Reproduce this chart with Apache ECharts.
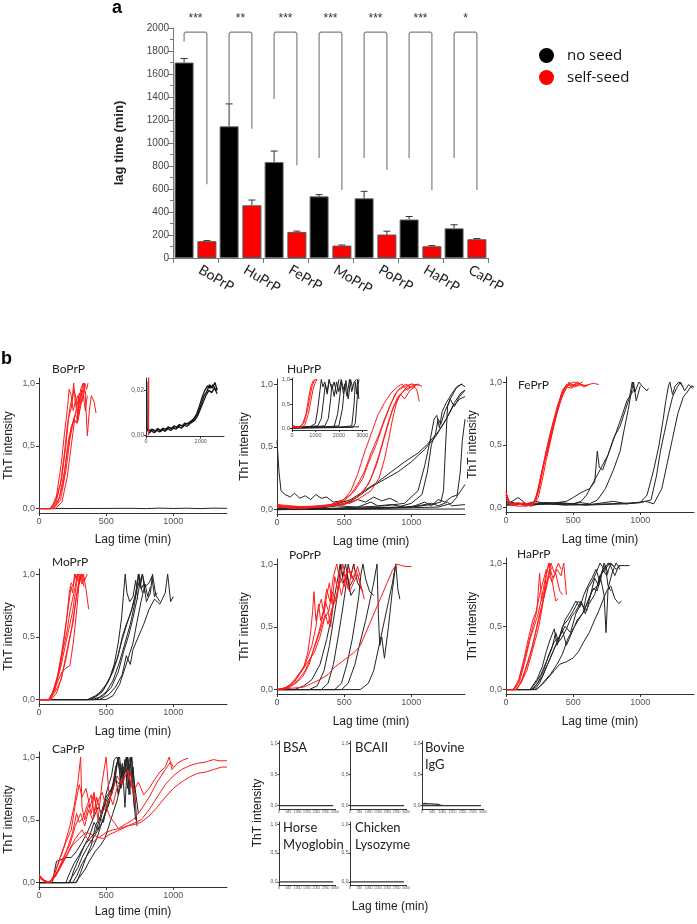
<!DOCTYPE html>
<html><head><meta charset="utf-8">
<script src="https://cdn.jsdelivr.net/npm/echarts@6/dist/echarts.min.js"></script>
<style>html,body{margin:0;padding:0;background:#fff}#c{width:697px;height:924px}</style>
</head><body><div id="c"></div>
<script>
// ---------- Panel a data ----------
const proteins = ['BoPrP','HuPrP','FePrP','MoPrP','PoPrP','HaPrP','CaPrP'];
const noSeed = [1700,1145,834,536,519,335,258];
const noSeedErr = [1735,1340,930,551,580,361,289];
const selfSeed = [146,458,227,108,204,102,163];
const selfSeedErr = [151,504,234,113,233,108,169];
const bracketLeftEnd = [1882,1345,1382,869,869,869,869];
const bracketRightEnd = [641,1124,805,592,767,592,592];
const bracketTop = 1965;
const starLevel = 2080;
const sigLabels = ['***','**','***','***','***','***','*'];
const lagTimeTicks = [0,200,400,600,800,1000,1200,1400,1600,1800,2000];

// ---------- Panel b tick labels ----------
const mainXTicks = [0,500,1000];
const thtTicks = [0,0.5,1];
const boInsetXTicks = [0,2000];
const boInsetYTicks = [0,0.02];
const huInsetXTicks = [0,1000,2000,3000];
const smallXTicks = [0,500,1000,1500,2000,2500,3000];

// ---------- Panel b curves: flat [t, ThT, t, ThT, ...] ----------
const boRed = [
 [0,0,80,0,120,0.05,160,0.2,190,0.45,210,0.65,230,0.8,250,0.9,258,1.0,270,0.85,290,0.9,300,0.8],
 [0,0,90,0,130,0.06,170,0.25,200,0.5,220,0.72,240,0.8,260,0.95,275,0.88,290,0.75,310,0.95,330,1.0,345,0.9,360,0.58,375,0.78,390,0.9,410,0.85,425,0.76],
 [0,0,100,0,140,0.05,180,0.2,210,0.45,240,0.65,260,0.7,280,0.8,300,0.92,320,0.85,340,1.0,355,0.95,365,1.0],
 [0,0,100,0,150,0.08,190,0.3,220,0.55,250,0.68,270,0.75,290,0.7,310,0.82,330,0.9,345,0.78,360,0.9],
 [0,0,110,0,160,0.07,200,0.3,230,0.55,260,0.72,280,0.68,300,0.85,320,0.95,335,0.88],
 [0,0,90,0,130,0.1,165,0.35,190,0.6,210,0.78,225,0.95,240,0.9,255,0.78,270,0.85,290,0.72],
 [0,0,120,0,170,0.05,210,0.25,240,0.5,265,0.7,285,0.68,305,0.8,320,0.95,330,1.0,350,0.9]
];
const boBlack = [
 [0,0,700,0.002,800,0,900,0.004,1000,0.001,1100,0.003,1200,0,1300,0.004,1400,0.002]
];
const boInsetBlack = [
 [30,0.024,40,0.003,80,0.002,150,0.0015,250,0.0025,350,0.002,450,0.0028,550,0.002,650,0.003,750,0.0025,850,0.0035,950,0.003,1050,0.004,1150,0.0035,1250,0.0045,1350,0.004,1450,0.005,1550,0.0055,1650,0.006,1750,0.0075,1850,0.0095,1950,0.013,2050,0.017,2150,0.02,2250,0.022,2350,0.021,2450,0.0225,2550,0.02,2600,0.021],
 [60,0.0025,120,0.001,200,0.002,300,0.0012,400,0.0022,500,0.0015,600,0.0025,700,0.0018,800,0.003,900,0.0022,1000,0.0032,1100,0.0028,1200,0.0038,1300,0.0032,1400,0.0045,1500,0.004,1600,0.0052,1700,0.006,1800,0.007,1900,0.009,2000,0.012,2100,0.015,2200,0.018,2300,0.02,2400,0.019,2500,0.021,2600,0.0185],
 [60,0.003,140,0.002,220,0.0028,320,0.0018,420,0.003,520,0.0022,620,0.0032,720,0.0026,820,0.0038,920,0.003,1020,0.0042,1120,0.0036,1220,0.0048,1320,0.0042,1420,0.0055,1520,0.005,1620,0.0062,1720,0.007,1820,0.0085,1920,0.0105,2020,0.014,2120,0.0175,2220,0.0195,2320,0.0225,2420,0.021,2520,0.0235,2600,0.02]
];
const boInsetRed = [[90,0,95,0.012,100,0.03]];

const huRed = [
 [0,0.05,50,0.02,150,0.01,300,0.02,400,0.04,500,0.08,550,0.15,600,0.28,650,0.45,700,0.6,750,0.75,800,0.85,850,0.93,900,0.98,930,1.0,970,0.95,1000,0.98],
 [0,0.03,100,0.01,300,0.02,450,0.05,550,0.12,600,0.2,650,0.3,700,0.45,720,0.5,760,0.6,800,0.72,850,0.85,900,0.95,950,0.98,1000,1.0,1040,0.96,1060,0.86],
 [0,0.02,200,0.01,400,0.03,500,0.05,600,0.1,680,0.2,740,0.35,780,0.5,820,0.65,860,0.8,900,0.9,950,0.95,1000,0.98,1050,1.0,1080,0.98],
 [0,0.04,200,0.02,400,0.04,500,0.07,580,0.15,640,0.25,680,0.37,700,0.42,740,0.52,790,0.68,840,0.82,880,0.92,920,0.97,960,1.0,1000,0.97,1050,1.0],
 [0,0.03,300,0.02,500,0.04,600,0.08,700,0.15,760,0.25,800,0.4,830,0.55,860,0.72,890,0.85,920,0.92,950,0.88,990,0.95,1030,0.98],
 [0,0.02,400,0.03,550,0.06,650,0.15,700,0.25,750,0.4,790,0.55,830,0.7,870,0.82,910,0.9,960,0.97,1000,1.0,1060,0.99]
];
const huBlack = [
 [0,0.55,15,0.3,30,0.15,60,0.12,100,0.1,130,0.13,170,0.09,210,0.11,250,0.08,290,0.12,330,0.09,370,0.1,420,0.06,480,0.07,540,0.05,600,0.08,660,0.06,720,0.1,780,0.07,840,0.09,900,0.06],
 [0,0.02,200,0.01,400,0.03,550,0.08,650,0.15,750,0.22,850,0.3,950,0.38,1050,0.45,1120,0.52,1200,0.62,1260,0.72,1320,0.85,1370,0.93,1400,0.95],
 [0,0.01,300,0.02,500,0.04,600,0.1,700,0.18,800,0.24,900,0.3,1000,0.38,1100,0.48,1180,0.58,1250,0.7,1310,0.82,1360,0.88,1400,0.9],
 [0,0.01,400,0.01,800,0.03,950,0.05,1050,0.15,1100,0.35,1140,0.55,1170,0.72,1190,0.75,1210,0.65,1230,0.78,1260,0.85,1300,0.92,1340,0.98,1380,1.0],
 [0,0,500,0.01,900,0.02,1000,0.05,1080,0.12,1120,0.3,1150,0.52,1180,0.6,1200,0.72,1220,0.68,1250,0.78,1290,0.88,1330,0.96,1370,1.0,1400,0.98],
 [0,0,600,0.01,1000,0.02,1150,0.04,1220,0.06,1240,0.15,1255,0.5,1270,0.82,1290,0.88,1320,0.82,1360,0.9,1400,0.95],
 [0,0,800,0.01,1200,0.02,1300,0.05,1340,0.1,1365,0.3,1380,0.55,1400,0.72],
 [0,0,700,0.01,1000,0.02,1100,0.06,1150,0.03,1200,0.08,1250,0.06,1300,0.1,1350,0.12,1400,0.2],
 [0,0.03,100,0.01,200,0.02,300,0.01,450,0.03,600,0.02,700,0.06,750,0.03,850,0.04,950,0.02,1050,0.03,1150,0.05,1200,0.03,1270,0.06,1300,0.03,1400,0.04],
 [0,0,1400,0.005]
];
const huInsetRed = [
 [0,0.02,300,0.03,450,0.08,600,0.3,700,0.6,800,0.85,900,0.97,1000,1.0,1060,0.98],
 [0,0.02,350,0.03,500,0.1,650,0.35,750,0.6,850,0.85,950,0.98,1050,1.0],
 [0,0.03,400,0.02,550,0.07,700,0.3,800,0.55,900,0.8,1000,0.95,1100,1.0]
];
const huInsetBlack = [
 [0,0.05,400,0.02,800,0.04,1000,0.1,1100,0.4,1200,0.8,1250,1.0,1320,0.85,1400,0.95,1500,0.7,1600,1.0],
 [0,0.02,600,0.03,1100,0.05,1250,0.2,1350,0.6,1420,0.9,1500,0.75,1580,1.0,1700,0.8,1800,0.95,1900,0.7,2000,1.0],
 [0,0.02,900,0.03,1400,0.05,1550,0.2,1650,0.6,1700,0.9,1800,0.65,1900,0.95,2000,0.75,2100,1.0,2200,0.8,2300,0.95],
 [0,0.01,1200,0.02,1800,0.04,1950,0.3,2050,0.7,2100,0.95,2200,0.7,2300,0.98,2400,0.6,2500,1.0,2600,0.8],
 [0,0.01,1500,0.03,2000,0.05,2150,0.4,2250,0.9,2350,0.65,2450,1.0,2550,0.75,2650,0.95,2750,1.0],
 [0,0.01,2000,0.02,2550,0.05,2650,0.5,2700,0.95,2760,0.7,2800,1.0,2850,0.6],
 [0,0,2600,0.02,2700,0.1,2780,0.6,2820,0.9,2860,1.0],
 [0,0.02,2860,0.03]
];

const feRed = [
 [0,0.13,20,0.05,50,0.02,100,0.03,150,0.01,200,0.03,230,0.1,260,0.25,290,0.4,320,0.55,350,0.68,380,0.78,410,0.9,430,0.95,460,0.98,500,0.97,540,0.99,580,0.96,620,0.98],
 [0,0.1,30,0.03,80,0.02,130,0.04,190,0.02,220,0.05,250,0.18,280,0.35,310,0.45,340,0.6,370,0.72,400,0.85,420,0.93,450,0.98,490,0.96,530,1.0,580,0.97,650,0.99,690,0.98],
 [0,0.08,40,0.02,100,0.01,200,0.02,240,0.08,270,0.22,300,0.38,330,0.52,360,0.68,390,0.8,410,0.88,440,0.95,470,1.0,510,0.96,560,0.98],
 [0,0.12,25,0.04,70,0.03,140,0.02,210,0.04,240,0.15,270,0.3,300,0.42,320,0.5,350,0.62,380,0.75,400,0.82,430,0.92,460,0.97,500,1.0,560,0.98,600,0.97],
 [0,0.06,50,0.02,120,0.03,190,0.01,220,0.06,250,0.2,285,0.38,310,0.5,345,0.65,380,0.8,420,0.92,440,0.96,470,0.99,520,0.97,570,1.0],
 [0,0.1,30,0.02,90,0.04,170,0.02,210,0.03,240,0.12,275,0.3,305,0.47,335,0.58,365,0.7,395,0.84,425,0.9,455,0.96,490,0.95,520,0.98]
];
const feBlack = [
 [0,0.1,30,0.04,90,0.08,150,0.03,220,0.05,300,0.03,380,0.04,450,0.05,500,0.08,560,0.12,620,0.15,660,0.2,680,0.45,695,0.32,720,0.3,760,0.42,800,0.55,850,0.65,890,0.78,920,0.88,940,1.0,960,0.92,990,1.0,1020,0.96,1050,0.93,1060,0.95],
 [0,0.05,100,0.03,200,0.02,300,0.04,400,0.03,500,0.03,560,0.05,600,0.1,640,0.18,700,0.3,760,0.42,820,0.6,860,0.72,900,0.85,930,0.9,950,1.0,970,0.85,1000,0.97],
 [0,0.04,150,0.02,300,0.03,450,0.02,550,0.04,620,0.03,680,0.06,740,0.15,800,0.3,850,0.45,880,0.62,910,0.78,930,0.9,960,0.95],
 [0,0.03,200,0.02,400,0.04,600,0.02,800,0.05,900,0.03,1000,0.04,1050,0.1,1100,0.3,1140,0.5,1170,0.7,1190,0.85,1210,0.97,1220,1.0,1240,0.9,1260,0.97,1290,1.0,1320,0.96],
 [0,0.02,250,0.03,500,0.02,750,0.03,1000,0.04,1080,0.06,1120,0.25,1150,0.45,1180,0.6,1210,0.75,1240,0.88,1270,0.95,1300,1.0,1330,0.93,1360,0.98,1390,0.95],
 [0,0.02,300,0.04,600,0.02,900,0.03,1040,0.05,1100,0.03,1160,0.15,1200,0.35,1240,0.55,1280,0.75,1320,0.88,1350,0.92,1380,0.97,1400,0.96]
];

const moRed = [
 [0,0,70,0,100,0.05,140,0.2,170,0.38,200,0.6,220,0.75,240,0.9,250,0.85,265,1.0,280,0.95,295,1.0],
 [0,0,75,0,110,0.08,150,0.22,180,0.4,210,0.55,230,0.7,250,0.8,270,0.9,285,1.0,300,0.92,320,1.0],
 [0,0,80,0,120,0.1,160,0.25,200,0.45,230,0.6,250,0.7,270,0.85,290,1.0,310,0.95,330,1.0,350,0.88,370,0.72],
 [0,0,85,0,130,0.12,170,0.22,200,0.25,230,0.27,255,0.45,275,0.65,290,0.82,305,1.0,320,0.92,340,0.97],
 [0,0,75,0,120,0.08,160,0.3,190,0.5,210,0.68,225,0.85,240,0.93,255,0.9,270,1.0,285,0.96],
 [0,0,90,0,130,0.05,170,0.18,200,0.35,230,0.5,255,0.62,275,0.8,290,0.9,305,0.98,320,1.0,340,0.95,360,1.0],
 [0,0,80,0,120,0.06,160,0.15,200,0.32,240,0.55,265,0.72,285,0.85,300,0.95,315,1.0,335,0.9]
];
const moBlack = [
 [0,0,380,0,420,0.02,470,0.06,520,0.15,560,0.28,590,0.45,615,0.65,630,0.85,642,1.0,655,0.85,675,0.78,700,0.82,720,0.95,735,0.8],
 [0,0,360,0,420,0.03,480,0.08,530,0.18,580,0.32,620,0.48,660,0.62,690,0.72,720,0.85,740,1.0,755,0.9,770,1.0,790,0.85],
 [0,0,400,0,450,0.02,500,0.06,550,0.15,600,0.3,640,0.45,680,0.6,710,0.75,730,0.9,745,1.0,760,0.88,780,0.92,800,0.78,830,0.85,845,1.0,870,0.83,900,0.78],
 [0,0,420,0,480,0.03,540,0.1,590,0.22,630,0.38,670,0.52,700,0.65,730,0.8,755,0.95,770,1.0,790,0.9,820,0.93,840,0.98,860,0.82,880,0.85],
 [0,0,450,0,520,0.04,570,0.1,620,0.2,650,0.35,680,0.28,700,0.4,740,0.5,780,0.6,820,0.72,860,0.8,900,0.76,940,0.85,958,1.0,980,0.78,1000,0.82],
 [0,0,380,0,440,0.04,500,0.12,550,0.22,590,0.35,620,0.5,650,0.6,680,0.68,700,0.75,730,0.88,750,0.95,770,0.85],
 [0,0,500,0,550,0.03,600,0.12,640,0.25,670,0.35,700,0.45,730,0.62,760,0.78,790,0.92,810,0.82,830,0.9]
];

const poRed = [
 [0,0,50,0.01,100,0.04,150,0.1,200,0.18,230,0.3,250,0.45,265,0.62,275,0.78,290,0.55,310,0.65,330,0.72,350,0.6,370,0.75,390,0.85,410,0.68,430,0.9,450,0.8],
 [0,0,60,0.01,110,0.05,160,0.12,210,0.2,260,0.35,290,0.5,310,0.68,325,0.55,345,0.62,370,0.8,395,0.7,420,0.9,445,1.0,470,0.85,500,0.92,530,0.8,560,0.95,580,1.0],
 [0,0,70,0.01,130,0.06,180,0.14,230,0.22,280,0.3,320,0.42,350,0.55,380,0.62,400,0.5,420,0.7,445,0.75,470,0.9,500,0.82,530,0.98,560,0.88,590,0.95,620,0.85,650,0.72],
 [0,0,80,0.02,140,0.05,190,0.1,240,0.2,280,0.35,310,0.45,340,0.58,360,0.7,385,0.62,410,0.78,440,0.7,470,0.88,490,1.0,510,0.9,540,0.78,570,0.85,600,0.92,630,0.8],
 [0,0,100,0.02,160,0.08,210,0.15,250,0.25,300,0.4,330,0.5,360,0.6,380,0.52,410,0.65,440,0.72,460,0.85,480,0.75,510,0.9,540,0.95,570,0.88,600,0.98,620,0.9],
 [0,0,100,0.01,200,0.02,260,0.05,320,0.08,380,0.12,430,0.18,480,0.22,530,0.26,580,0.3,620,0.35,660,0.45,700,0.55,740,0.65,780,0.75,820,0.85,860,0.95,890,1.0,920,0.99,960,0.98,1000,0.98]
];
const poBlack = [
 [0,0,130,0,200,0.03,260,0.08,320,0.2,370,0.4,400,0.55,430,0.75,455,0.9,470,1.0,490,0.9,510,1.0,540,0.82,570,0.88],
 [0,0,240,0,300,0.03,350,0.15,390,0.35,420,0.55,445,0.72,460,0.85,475,1.0,495,0.85,520,0.92,550,0.75,580,0.8],
 [0,0,330,0,380,0.05,420,0.2,460,0.45,490,0.65,510,0.8,530,1.0,550,0.9,570,1.0,600,0.85,640,0.78],
 [0,0,430,0,480,0.05,520,0.2,560,0.4,590,0.6,610,0.75,625,0.92,640,1.0,660,0.88,690,0.78,720,0.75],
 [0,0,480,0,530,0.05,580,0.2,620,0.38,660,0.55,690,0.7,720,0.85,745,1.0,755,0.6,765,0.35,780,0.42,800,0.25,830,0.5,860,0.8,885,1.0,900,0.8,915,0.72],
 [0,0,620,0,680,0.05,720,0.15,750,0.3,770,0.4,800,0.55,830,0.7,860,0.85,880,0.98]
];

const haRed = [
 [0,0,50,0,90,0.05,130,0.2,170,0.38,200,0.5,230,0.62,250,0.92,265,0.7,285,0.78,300,0.9,320,1.0,340,0.95],
 [0,0,60,0,100,0.06,140,0.22,180,0.4,210,0.5,240,0.6,270,0.75,300,0.92,320,1.0,340,0.85,370,0.92,400,0.78,420,0.75],
 [0,0,70,0,110,0.05,150,0.18,190,0.32,220,0.45,250,0.58,280,0.72,310,0.88,335,1.0,360,0.92,390,1.0,410,0.95],
 [0,0,80,0,120,0.08,160,0.2,200,0.35,240,0.55,270,0.68,300,0.8,330,0.95,350,0.88,380,0.95,410,0.9,430,1.0,450,0.75],
 [0,0,55,0,95,0.08,135,0.25,170,0.42,200,0.55,225,0.62,250,0.75,275,0.85,300,0.95,330,0.92],
 [0,0,75,0,115,0.06,155,0.15,190,0.28,220,0.4,245,0.5,270,0.65,295,0.82,320,0.9,345,0.85,370,0.7,390,0.72]
];
const haBlack = [
 [0,0,180,0,220,0.05,260,0.12,300,0.22,340,0.32,370,0.45,390,0.38,420,0.5,460,0.55,500,0.62,540,0.7,580,0.65,610,0.8,640,0.85,670,0.92,700,1.0,730,0.95,760,1.0,800,0.98],
 [0,0,200,0,240,0.06,280,0.15,320,0.28,360,0.38,400,0.42,440,0.5,480,0.45,520,0.6,560,0.68,600,0.62,630,0.75,660,0.88,690,0.82,720,0.95,750,0.9,780,1.0,820,0.95,850,0.98],
 [0,0,190,0,230,0.04,270,0.1,310,0.2,350,0.3,390,0.4,420,0.47,450,0.35,490,0.45,530,0.55,570,0.6,610,0.7,640,0.78,680,0.82,700,0.9,730,0.75,745,0.45,760,0.8,790,0.92,820,1.0,850,0.95],
 [0,0,210,0,250,0.05,290,0.15,330,0.25,370,0.35,410,0.4,450,0.48,490,0.58,520,0.62,560,0.7,590,0.6,620,0.68,660,0.75,700,0.9,740,0.95,770,1.0,810,0.9,840,0.98,880,0.98,920,0.98],
 [0,0,220,0,270,0.04,320,0.1,360,0.15,400,0.2,450,0.22,500,0.25,540,0.3,580,0.38,620,0.45,660,0.55,690,0.62,720,0.7,750,0.78,780,0.82,810,0.72,840,0.68,860,0.7],
 [0,0,180,0,230,0.08,270,0.18,300,0.3,330,0.4,360,0.48,380,0.35,410,0.45,440,0.55,480,0.62,520,0.7,550,0.65,580,0.75,610,0.82,640,0.88,670,0.95,700,0.85,730,1.0,760,0.92],
 [0,0,230,0,280,0.06,330,0.12,380,0.2,420,0.28,460,0.4,500,0.48,540,0.55,580,0.62,620,0.72,650,0.8,680,0.78,710,0.92,740,0.98,760,0.82,780,0.78]
];

const caRed = [
 [0,0.07,20,0.03,50,0.01,80,0,110,0.05,150,0.18,190,0.3,230,0.45,260,0.6,290,0.8,310,1.0,320,0.6,340,0.5,370,0.62,390,0.55,410,0.7,430,0.58],
 [0,0.05,40,0.01,80,0,120,0.08,160,0.2,200,0.32,240,0.42,270,0.62,300,0.78,320,0.68,350,0.75,380,0.6,410,0.72,440,0.5,470,0.8,500,1.0,520,0.72,550,0.62,580,0.75,610,0.8,640,0.85,680,0.88,720,0.6],
 [0,0.06,30,0.02,70,0,110,0.04,150,0.12,190,0.22,230,0.3,270,0.45,310,0.55,340,0.45,370,0.58,400,0.5,430,0.68,460,0.55,500,0.6,540,0.7,580,0.85,620,0.78,660,0.9,700,0.72,740,0.8,780,0.7,820,0.75,860,0.82,900,0.88,940,0.92,970,1.0,990,0.9,1030,0.95,1080,0.98,1110,0.99],
 [0,0.05,40,0.01,80,0,120,0.05,170,0.15,220,0.25,270,0.35,320,0.42,360,0.35,400,0.32,440,0.36,480,0.35,520,0.38,580,0.41,640,0.44,700,0.47,760,0.5,820,0.58,880,0.68,940,0.78,1000,0.85,1060,0.9,1120,0.93,1180,0.95,1240,0.96,1300,0.98,1340,0.97,1400,0.97],
 [0,0.04,50,0,100,0.02,150,0.1,200,0.2,250,0.3,300,0.35,350,0.4,400,0.38,450,0.36,500,0.4,550,0.42,600,0.43,650,0.45,700,0.46,760,0.48,820,0.53,880,0.6,940,0.68,1000,0.75,1060,0.8,1120,0.84,1180,0.87,1240,0.88,1300,0.9,1360,0.92,1400,0.92],
 [0,0.06,40,0.02,80,0,130,0.06,180,0.18,220,0.3,250,0.4,280,0.55,300,0.48,330,0.52,360,0.62,390,0.7,410,0.55,440,0.65,470,0.72,500,0.6,530,0.52,560,0.48,590,0.43,620,0.45,650,0.47,700,0.5,760,0.58,820,0.68,880,0.8,940,0.9,980,0.96,1000,0.92]
];
const caBlack = [
 [0,0,100,0,130,0.17,160,0.18,200,0.2,240,0.2,280,0.25,320,0.32,360,0.4,400,0.5,440,0.6,470,0.55,500,0.68,540,0.75,570,0.85,590,1.0,610,0.75,640,0.9,660,1.0,680,0.7],
 [0,0,200,0,230,0.08,260,0.15,300,0.22,340,0.3,380,0.38,410,0.48,440,0.42,470,0.55,500,0.65,530,0.72,560,0.8,580,0.95,600,1.0,620,0.8,640,0.98,660,0.75,690,1.0,710,0.6],
 [0,0,220,0,250,0.05,290,0.12,320,0.2,360,0.28,400,0.35,440,0.42,480,0.5,510,0.6,540,0.72,570,0.85,590,0.7,620,0.95,640,0.6,660,1.0,690,0.82,720,0.5],
 [0,0,250,0,280,0.05,320,0.15,360,0.22,400,0.28,430,0.35,460,0.45,490,0.55,520,0.62,550,0.78,570,0.92,590,0.98,620,0.85,650,1.0,670,0.7,700,0.92,730,0.45],
 [0,0,270,0,300,0.04,340,0.1,380,0.18,420,0.25,460,0.3,490,0.35,520,0.45,550,0.55,580,0.65,610,0.78,640,0.88,670,0.92,690,1.0,710,0.8,740,0.55],
 [0,0,280,0,310,0.08,350,0.2,390,0.3,420,0.45,450,0.52,480,0.48,510,0.65,540,0.7,570,0.82,600,0.78,630,0.92,650,0.88,680,1.0,700,0.75],
 [0,0,230,0,260,0.1,300,0.2,340,0.3,380,0.35,420,0.4,450,0.5,480,0.62,510,0.75,540,0.85,560,0.98,580,1.0,600,0.9,620,0.85]
];

const controlFlat = [[0,0,2900,0]];
const igGBlack = [[0,0.03,80,0.02,160,0.035,240,0.02,320,0.03,400,0.02,480,0.028,560,0.018,640,0.025,720,0.015,800,0.02,900,0.01,1000,0.005]];

// ---------- build ----------
const grids = [], xAxes = [], yAxes = [], series = [], graphics = [];
const TXT = '#222', TICKC = '#555', AX = '#333';
const comma = (v, d) => v.toFixed(d).replace('.', ',');

function addGrid(box){ grids.push({left:box[0], top:box[1], width:box[2], height:box[3], containLabel:false}); return grids.length-1; }

function lineAxes(gi, o){
  xAxes.push({type:'value', gridIndex:gi, min:0, max:o.xMax,
    axisLine:{show:true, onZero:false, lineStyle:{color:AX, width:1}},
    axisTick:{show:true, customValues:o.xTicks, length:o.tickLen, lineStyle:{color:AX}},
    axisLabel:{customValues:o.xTicks, formatter:v=>String(Math.round(v)), fontSize:o.xfs, color:TICKC, margin:o.xMargin, fontFamily:'Liberation Sans'},
    splitLine:{show:false},
    name:o.xName||'', nameLocation:'middle', nameGap:o.xGap||0,
    nameTextStyle:{fontSize:12, color:TXT, fontFamily:'Liberation Sans'}});
  yAxes.push({type:'value', gridIndex:gi, min:o.yMin, max:o.yMax,
    axisLine:{show:true, onZero:false, lineStyle:{color:AX, width:1}},
    axisTick:{show:true, customValues:o.yTicks, length:o.tickLen, lineStyle:{color:AX}},
    axisLabel:{customValues:o.yTicks, formatter:v=>comma(v,o.dec), fontSize:o.yfs, color:TICKC, margin:o.yMargin, fontFamily:'Liberation Sans'},
    splitLine:{show:false},
    name:o.yName||'', nameLocation:'middle', nameGap:o.yGap||0,
    nameTextStyle:{fontSize:12, color:TXT, fontFamily:'Liberation Sans'}});
}

function addCurves(gi, curves, color, width){
  curves.forEach(flat => {
    const d = [];
    for (let i = 0; i < flat.length; i += 2) d.push([flat[i], flat[i+1]]);
    series.push({type:'line', xAxisIndex:gi, yAxisIndex:gi, data:d, symbol:'none', showSymbol:false,
      lineStyle:{color, width:width||1}, itemStyle:{color}, silent:true, animation:false, z:3});
  });
}

function label(text, x, y, fs, opts){
  graphics.push(Object.assign({type:'text', x, y, silent:true,
    style:{text, fontSize:fs, fontFamily:'Lato', fill:TXT, verticalAlign:'middle', align:'left'}}, opts||{}));
}

// ---- panel a ----
const gA = addGrid([173,28,315,230]);
xAxes.push({type:'category', gridIndex:gA, data:proteins,
  axisLine:{lineStyle:{color:'#777'}}, axisTick:{show:true, length:5, lineStyle:{color:'#777'}},
  axisLabel:{rotate:-31, fontSize:14, fontFamily:'Lato', color:TXT, margin:8, padding:[0,0,0,5]}});
yAxes.push({type:'value', gridIndex:gA, min:0, max:2000, interval:200,
  axisLine:{show:true, lineStyle:{color:'#777'}}, axisTick:{show:true, length:5, lineStyle:{color:'#777'}},
  minorTick:{show:true, splitNumber:2, length:3, lineStyle:{color:'#777'}},
  axisLabel:{fontSize:10, color:'#444', margin:4, fontFamily:'Liberation Sans',
    formatter:v => lagTimeTicks.indexOf(v) >= 0 ? String(v) : ''},
  splitLine:{show:false},
  name:'lag time (min)', nameLocation:'middle', nameGap:47,
  nameTextStyle:{fontSize:13, fontWeight:'bold', color:TXT, fontFamily:'Liberation Sans'}});
series.push({type:'bar', name:'no seed', xAxisIndex:gA, yAxisIndex:gA, data:noSeed, barWidth:19, barGap:'20%',
  itemStyle:{color:'#000', borderColor:'#666', borderWidth:1}, silent:true, animation:false});
series.push({type:'bar', name:'self-seed', xAxisIndex:gA, yAxisIndex:gA, data:selfSeed, barWidth:19, barGap:'20%',
  itemStyle:{color:'#ff0000', borderColor:'#555', borderWidth:1}, silent:true, animation:false});
const OFF = 0.2533;
function errSeries(vals, errs, side){
  return {type:'custom', xAxisIndex:gA, yAxisIndex:gA, silent:true, animation:false, z:4,
    data: vals.map((v,i)=>[i, v, errs[i]]),
    renderItem(p, api){
      const i = api.value(0);
      const b = api.coord([i, api.value(1)]), t = api.coord([i, api.value(2)]);
      const x = b[0] + side*api.size([1,0])[0]*OFF;
      return {type:'group', children:[
        {type:'line', shape:{x1:x, y1:b[1], x2:x, y2:t[1]}, style:{stroke:'#333', lineWidth:1}},
        {type:'line', shape:{x1:x-3.5, y1:t[1], x2:x+3.5, y2:t[1]}, style:{stroke:'#333', lineWidth:1}}]};
    }};
}
series.push(errSeries(noSeed, noSeedErr, -1));
series.push(errSeries(selfSeed, selfSeedErr, 1));
series.push({type:'custom', xAxisIndex:gA, yAxisIndex:gA, silent:true, animation:false, z:3, clip:false,
  data: proteins.map((p,i)=>[i, bracketLeftEnd[i], bracketRightEnd[i], bracketTop, starLevel]),
  renderItem(p, api){
    const i = api.value(0);
    const w = api.size([1,0])[0]*OFF;
    const c = api.coord([i, api.value(3)]);
    const yl = api.coord([i, api.value(1)])[1], yr = api.coord([i, api.value(2)])[1];
    const ys = api.coord([i, api.value(4)])[1];
    const xl = c[0]-w, xr = c[0]+w, yt = c[1];
    return {type:'group', children:[
      {type:'polyline', shape:{points:[[xl,yl],[xl,yt+1.5],[xl+1.5,yt],[xr-1.5,yt],[xr,yt+1.5],[xr,yr]]}, style:{stroke:'#808080', lineWidth:1.2, fill:null}},
      {type:'text', x:c[0], y:ys, style:{text:sigLabels[p.dataIndex], fontSize:12, fontFamily:'Liberation Sans', fill:'#333', align:'center', verticalAlign:'middle'}}]};
  }});

// ---- panel b main plots ----
const mainPanels = [
  {title:'BoPrP', t:[52,369], box:[39,378,188,135], yGap:24, xGap:21, red:boRed, black:boBlack},
  {title:'HuPrP', t:[287,369], box:[277,379,188,135], yGap:26, xGap:22, red:huRed, black:huBlack},
  {title:'FePrP', t:[518,385], box:[506,377,188,135], yGap:27, xGap:22, red:feRed, black:feBlack},
  {title:'MoPrP', t:[52,562], box:[39,569,188,135], yGap:24, xGap:22, red:moRed, black:moBlack},
  {title:'PoPrP', t:[289,555], box:[277,559,188,135], yGap:26, xGap:22, red:poRed, black:poBlack},
  {title:'HaPrP', t:[517,554], box:[506,558,188,136], yGap:27, xGap:22, red:haRed, black:haBlack},
  {title:'CaPrP', t:[52,749], box:[39,752,188,135], yGap:24, xGap:19, red:caRed, black:caBlack}
];
mainPanels.forEach(pn => {
  const gi = addGrid(pn.box);
  lineAxes(gi, {xMax:1400, xTicks:mainXTicks, yMin:-0.035, yMax:1.04, yTicks:thtTicks, dec:1,
    xfs:9, yfs:9, tickLen:3, xMargin:4, yMargin:4,
    xName:'Lag time (min)', xGap:pn.xGap, yName:'ThT intensity', yGap:pn.yGap});
  addCurves(gi, pn.black, '#222', 1);
  addCurves(gi, pn.red, '#ff1a1a', 1);
  label(pn.title, pn.t[0], pn.t[1], 12);
});

// ---- insets ----
const gBoIn = addGrid([146,378,78,58.5]);
lineAxes(gBoIn, {xMax:2850, xTicks:boInsetXTicks, yMin:-0.0005, yMax:0.0255, yTicks:boInsetYTicks, dec:2,
  xfs:5.5, yfs:6.5, tickLen:2, xMargin:2, yMargin:2});
addCurves(gBoIn, boInsetBlack, '#111', 1.3);
addCurves(gBoIn, boInsetRed, '#ff1a1a', 1.2);

const gHuIn = addGrid([292,378,75,52]);
lineAxes(gHuIn, {xMax:3200, xTicks:huInsetXTicks, yMin:-0.035, yMax:1.03, yTicks:thtTicks, dec:1,
  xfs:5.5, yfs:6, tickLen:2, xMargin:2, yMargin:2});
addCurves(gHuIn, huInsetBlack, '#222', 1);
addCurves(gHuIn, huInsetRed, '#ff1a1a', 1);

// ---- controls ----
const smallPanels = [
  {lines:['BSA'], box:[279,741,56,68], t:[283,748], black:controlFlat},
  {lines:['BCAII'], box:[350,741,56,68], t:[355,748], black:controlFlat},
  {lines:['Bovine','IgG'], box:[422,741,61,68], t:[425,748], black:controlFlat.concat(igGBlack)},
  {lines:['Horse','Myoglobin'], box:[279,822,56,63], t:[283,828], black:controlFlat},
  {lines:['Chicken','Lysozyme'], box:[350,822,56,63], t:[355,828], black:controlFlat}
];
smallPanels.forEach(sp => {
  const gi = addGrid(sp.box);
  lineAxes(gi, {xMax:3000, xTicks:smallXTicks, yMin:-0.053, yMax:1.037, yTicks:thtTicks, dec:1,
    xfs:3.5, yfs:5, tickLen:1.5, xMargin:1.5, yMargin:1.5});
  addCurves(gi, sp.black, '#333', 1.3);
  sp.lines.forEach((s, k) => label(s, sp.t[0], sp.t[1] + k*16.5, 13));
});

// ---- panel letters & shared labels ----
graphics.push({type:'text', x:112, y:8, style:{text:'a', fontSize:18, fontWeight:'bold', fontFamily:'Liberation Sans', fill:'#000', verticalAlign:'middle'}});
graphics.push({type:'text', x:1, y:359, style:{text:'b', fontSize:18, fontWeight:'bold', fontFamily:'Liberation Sans', fill:'#000', verticalAlign:'middle'}});
graphics.push({type:'text', x:258, y:813, rotation:Math.PI/2, style:{text:'ThT intensity', fontSize:12, fontFamily:'Liberation Sans', fill:TXT, align:'center', verticalAlign:'middle'}});
graphics.push({type:'text', x:390, y:907, style:{text:'Lag time (min)', fontSize:12, fontFamily:'Liberation Sans', fill:TXT, align:'center', verticalAlign:'middle'}});

const chart = echarts.init(document.getElementById('c'), null, {renderer:'canvas'});
chart.setOption({
  animation:false,
  backgroundColor:'#fff',
  grid:grids, xAxis:xAxes, yAxis:yAxes, series,
  legend:{data:['no seed','self-seed'], orient:'vertical', left:534, top:43, icon:'circle',
    itemWidth:15, itemHeight:15, itemGap:7, selectedMode:false, itemStyle:{borderWidth:0},
    textStyle:{fontSize:15, fontFamily:'Open Sans', color:'#111', padding:[0,0,0,8]}},
  graphic:graphics
});
</script></body></html>
